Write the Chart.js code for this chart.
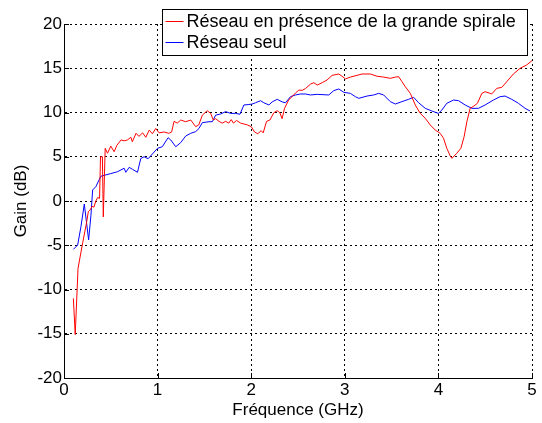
<!DOCTYPE html>
<html>
<head>
<meta charset="utf-8">
<script src="https://cdn.jsdelivr.net/npm/chart.js@4"></script>
<style>
  html, body { margin: 0; padding: 0; background: #fff; }
  #wrap { width: 542px; height: 423px; position: relative; }
</style>
</head>
<body>
<div id="wrap"><canvas id="myChart" width="542" height="423"></canvas></div>
<script>
const seriesNames = ["Réseau en présence de la grande spirale", "Réseau seul"];
const seriesColors = ["#ff0000", "#0000ff"];

// réseau + grande spirale
const freqRed = [
	0.10, 0.12, 0.15, 0.20, 0.24, 0.26, 0.28, 0.30, 0.32, 0.34, 0.36, 0.38, 0.39, 0.41, 0.42, 0.44,
	0.465, 0.50, 0.536, 0.565, 0.61, 0.643, 0.678, 0.714, 0.73, 0.77, 0.80, 0.84, 0.874, 0.91, 0.945, 0.98,
	1.016, 1.07, 1.12, 1.15, 1.176, 1.21, 1.247, 1.30, 1.354, 1.407, 1.44, 1.478, 1.53, 1.567, 1.595, 1.62,
	1.656, 1.69, 1.727, 1.76, 1.787, 1.81, 1.844, 1.887, 1.958, 2.0, 2.036, 2.07, 2.107, 2.128, 2.164, 2.2,
	2.242, 2.278, 2.306, 2.33, 2.356, 2.40, 2.473, 2.51, 2.544, 2.58, 2.633, 2.67, 2.705, 2.758, 2.81, 2.865,
	2.936, 2.97, 3.007, 3.06, 3.131, 3.184, 3.273, 3.344, 3.415, 3.486, 3.54, 3.575, 3.61, 3.646, 3.70, 3.753,
	3.806, 3.86, 3.913, 3.966, 4.02, 4.055, 4.09, 4.126, 4.144, 4.197, 4.24, 4.275, 4.304, 4.339, 4.375, 4.417,
	4.464, 4.499, 4.57, 4.624, 4.677, 4.73, 4.801, 4.872, 4.943, 5.0
];
const gainRed = [
	-11.0, -15.1, -7.6, -4.7, -2.5, -1.2, -1.0, -0.6, -0.7, 0.0, 0.4, 0.3, 5.0, 5.0, -1.8, 5.95,
	5.4, 6.2, 5.57, 6.3, 6.9, 6.8, 6.9, 7.2, 6.7, 7.65, 7.3, 7.7, 7.2, 8.0, 7.6, 8.2,
	7.7, 7.8, 7.65, 7.8, 9.0, 8.8, 9.15, 8.96, 9.15, 8.4, 8.6, 9.7, 10.2, 9.9, 9.15, 9.3,
	9.0, 8.8, 9.0, 8.8, 9.2, 8.8, 9.1, 8.8, 8.6, 8.4, 7.8, 7.6, 7.95, 7.7, 9.0, 9.15,
	9.98, 10.2, 9.98, 9.3, 10.47, 11.4, 12.2, 12.54, 12.5, 12.7, 13.2, 13.37, 13.1, 13.37, 13.67, 14.2,
	14.35, 14.1, 13.8, 14.0, 14.2, 14.35, 14.35, 14.1, 14.0, 13.86, 14.0, 14.05, 13.5, 12.92, 12.16, 10.85,
	9.9, 9.34, 8.59, 8.02, 7.64, 7.08, 5.95, 5.1, 4.82, 5.4, 5.95, 7.27, 8.96, 10.47, 10.7, 11.04,
	12.16, 12.35, 12.1, 12.73, 12.84, 13.48, 14.35, 14.99, 15.37, 15.86
];

// réseau seul
const freqBlue = [
	0.10, 0.146, 0.181, 0.217, 0.263, 0.288, 0.306, 0.34, 0.394, 0.50, 0.57, 0.643, 0.66, 0.696, 0.732, 0.785,
	0.82, 0.856, 0.899, 0.999, 1.05, 1.112, 1.14, 1.194, 1.247, 1.30, 1.354, 1.407, 1.442, 1.478, 1.549, 1.585,
	1.62, 1.674, 1.727, 1.78, 1.833, 1.88, 1.922, 1.975, 2.011, 2.046, 2.10, 2.135, 2.189, 2.224, 2.278, 2.331,
	2.366, 2.42, 2.473, 2.526, 2.58, 2.633, 2.705, 2.829, 2.882, 2.936, 2.989, 3.06, 3.113, 3.149, 3.238, 3.309,
	3.362, 3.415, 3.486, 3.54, 3.61, 3.682, 3.735, 3.788, 3.86, 3.93, 4.0, 4.037, 4.09, 4.162, 4.215, 4.286,
	4.357, 4.428, 4.499, 4.588, 4.659, 4.712, 4.783, 4.855, 4.926, 4.979
];
const gainBlue = [
	-5.46, -4.97, -2.9, -0.34, -4.4, -1.6, 1.25, 1.62, 2.8, 3.1, 3.3, 3.7, 3.24, 3.8, 3.58, 3.24,
	4.8, 5.0, 4.78, 5.95, 6.13, 7.15, 6.9, 6.13, 6.6, 7.34, 7.65, 7.84, 8.2, 8.85, 8.96, 8.96,
	9.7, 9.83, 10.1, 9.9, 9.9, 9.8, 10.85, 10.9, 10.96, 11.1, 11.33, 11.1, 10.85, 11.2, 11.49, 11.2,
	11.1, 11.79, 11.98, 12.09, 12.09, 11.98, 12.05, 11.98, 12.47, 12.66, 12.28, 12.16, 11.79, 11.6, 11.86, 11.98,
	12.16, 11.98, 11.23, 10.96, 11.23, 11.49, 11.72, 11.11, 10.47, 10.17, 9.9, 10.28, 11.04, 11.41, 11.34, 10.85,
	10.47, 10.47, 10.85, 11.41, 11.79, 11.86, 11.49, 11.04, 10.47, 10.17
];

const toPoints = (xs, ys) => xs.map((x, i) => ({ x: x, y: ys[i] }));
const FONT = "'Liberation Sans', Arial, sans-serif";
const FONT_SIZE = 17;
const LEGEND_FONT_SIZE = 18;

// legend box in the upper right + inward tick marks
const matlabLegend = {
	id: "matlabLegend",
	afterDraw(chart) {
		const ctx = chart.ctx;
		const xs = chart.scales.x, ys = chart.scales.y;
		const area = chart.chartArea;
		ctx.save();
		ctx.strokeStyle = "#000";
		ctx.lineWidth = 1;
		ctx.beginPath();
		xs.ticks.forEach(t => {
			const px = Math.round(xs.getPixelForValue(t.value)) + 0.5;
			ctx.moveTo(px, area.bottom);
			ctx.lineTo(px, area.bottom - 5);
		});
		ys.ticks.forEach(t => {
			const py = Math.round(ys.getPixelForValue(t.value)) + 0.5;
			ctx.moveTo(area.left, py);
			ctx.lineTo(area.left + 5, py);
		});
		ctx.stroke();

		const bx = 162.5, by = 9.5, bw = 365, bh = 46;
		ctx.fillStyle = "#fff";
		ctx.fillRect(bx, by, bw, bh);
		ctx.strokeRect(bx, by, bw, bh);
		ctx.font = LEGEND_FONT_SIZE + "px " + FONT;
		ctx.textBaseline = "middle";
		chart.data.datasets.forEach((ds, i) => {
			const cy = by + 12 + i * 21;
			ctx.strokeStyle = ds.borderColor;
			ctx.beginPath();
			ctx.moveTo(bx + 3, cy);
			ctx.lineTo(bx + 21, cy);
			ctx.stroke();
			ctx.fillStyle = "#000";
			ctx.fillText(ds.label, bx + 24, cy + 1);
		});
		ctx.restore();
	}
};

const gridStyle = {
	color: "#000",
	lineWidth: 1,
	drawTicks: false,
};

const tickFont = { family: FONT, size: FONT_SIZE };

var myChart = new Chart(document.getElementById("myChart"), {
	type: "line",
	data: {
		datasets: [
			{
				label: seriesNames[0],
				data: toPoints(freqRed, gainRed),
				borderColor: seriesColors[0],
				borderWidth: 1,
				pointRadius: 0,
				tension: 0,
			},
			{
				label: seriesNames[1],
				data: toPoints(freqBlue, gainBlue),
				borderColor: seriesColors[1],
				borderWidth: 1,
				pointRadius: 0,
				tension: 0,
			},
		],
	},
	options: {
		responsive: false,
		animation: false,
		layout: { padding: { top: 24, right: 10, left: 0, bottom: 0 } },
		plugins: {
			legend: { display: false },
			tooltip: { enabled: false },
		},
		scales: {
			x: {
				type: "linear",
				min: 0,
				max: 5,
				ticks: { stepSize: 1, color: "#000", font: tickFont, padding: 2, maxRotation: 0 },
				grid: gridStyle,
				// dash here applies to the grid lines, the axis line stays solid
				border: { display: true, color: "#000", width: 1, dash: [2, 3] },
				title: { display: true, text: "Fréquence (GHz)", color: "#000", font: tickFont, padding: { top: 0, bottom: 2 } },
				afterFit(scale) { scale.height = 45; },
			},
			y: {
				min: -20,
				max: 20,
				ticks: { stepSize: 5, color: "#000", font: tickFont, padding: 2 },
				grid: gridStyle,
				border: { display: true, color: "#000", width: 1, dash: [2, 3] },
				title: { display: true, text: "Gain (dB)", color: "#000", font: tickFont, padding: { top: 11, bottom: 0 } },
				afterFit(scale) { scale.width = 64; },
			},
		},
	},
	plugins: [matlabLegend],
});
</script>
</body>
</html>
